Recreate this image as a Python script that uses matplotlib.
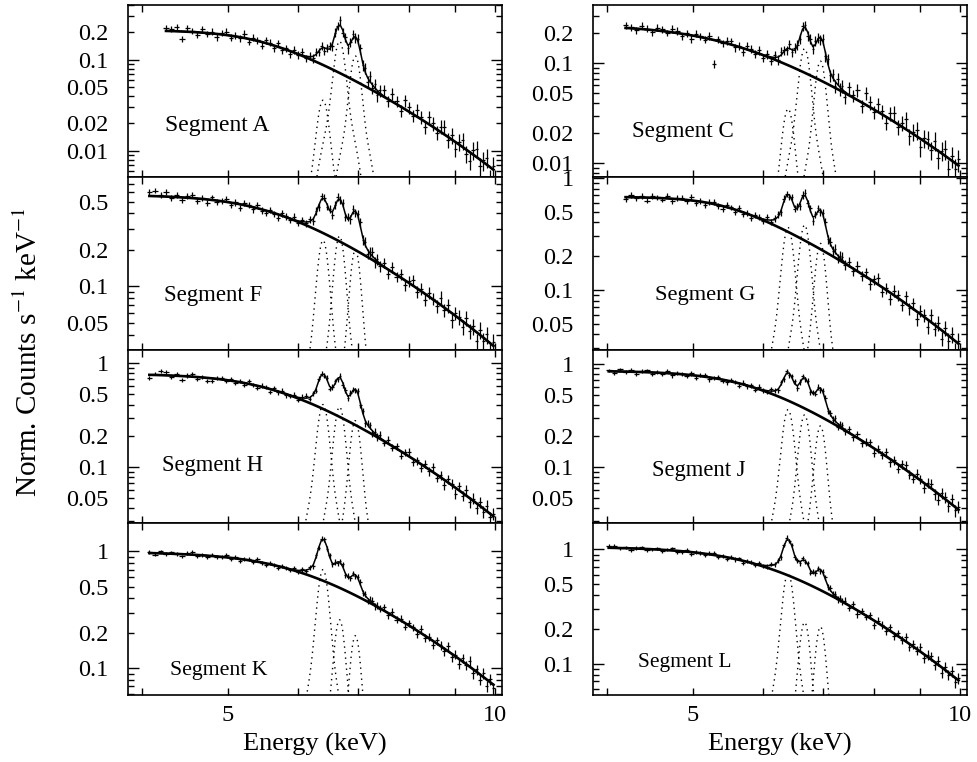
import numpy as np
import matplotlib.pyplot as plt
from matplotlib.ticker import FixedLocator, FuncFormatter, LogLocator, NullFormatter

plt.rcParams['font.family'] = ['Liberation Serif', 'DejaVu Serif']
plt.rcParams['mathtext.fontset'] = 'stix'

# bin centres (keV)
energy = [4.02, 4.08, 4.14, 4.20, 4.26, 4.32, 4.38, 4.44, 4.50, 4.56, 4.62, 4.68,
          4.74, 4.80, 4.86, 4.92, 4.98, 5.04, 5.10, 5.16, 5.22, 5.28, 5.34, 5.40,
          5.46, 5.52, 5.58, 5.64, 5.70, 5.76, 5.82, 5.88, 5.94, 6.00, 6.06, 6.12, 6.18,
          6.240, 6.285, 6.330, 6.375, 6.420, 6.465, 6.510, 6.555, 6.600, 6.645, 6.690,
          6.735, 6.780, 6.825, 6.870, 6.915, 6.960, 7.005, 7.050, 7.095, 7.140, 7.185,
          7.230, 7.275, 7.320, 7.365, 7.410,
          7.49, 7.575, 7.66, 7.745, 7.83, 7.915, 8.0, 8.085, 8.17, 8.255, 8.34, 8.425,
          8.51, 8.595, 8.68, 8.765, 8.85, 8.935, 9.02, 9.105, 9.19, 9.275, 9.36, 9.445,
          9.53, 9.615, 9.70, 9.785, 9.87, 9.955]

# relative 1-sigma errors per bin, scaled per segment
rel_err = [0.034, 0.036, 0.033, 0.035, 0.037, 0.034, 0.036, 0.035, 0.038, 0.036,
           0.037, 0.035, 0.039, 0.037, 0.038, 0.036, 0.040, 0.038, 0.039, 0.037,
           0.041, 0.039, 0.040, 0.038, 0.042, 0.040, 0.041, 0.039, 0.043, 0.041,
           0.042, 0.040, 0.044, 0.042, 0.043, 0.041, 0.045,
           0.050, 0.048, 0.046, 0.044, 0.044, 0.046, 0.049, 0.051, 0.050, 0.049,
           0.048, 0.050, 0.053, 0.054, 0.053, 0.052, 0.053, 0.055, 0.058, 0.061,
           0.063, 0.064, 0.065, 0.066, 0.067, 0.068, 0.069,
           0.062, 0.064, 0.066, 0.065, 0.068, 0.070, 0.069, 0.072, 0.074, 0.073,
           0.076, 0.078, 0.077, 0.080, 0.083, 0.082, 0.085, 0.088, 0.087, 0.091,
           0.094, 0.093, 0.097, 0.100, 0.099, 0.104, 0.107, 0.106, 0.111, 0.115]
err_scale = {'A': 2.2, 'C': 2.2, 'F': 1.5, 'G': 1.5,
             'H': 1.2, 'J': 1.2, 'K': 1.0, 'L': 1.0}

# normalised counts, aligned to the high-energy end of the grid
rate_A = [0.224, 0.217, 0.230, 0.168, 0.222, 0.208, 0.188, 0.219, 0.193, 0.204,
          0.177, 0.197, 0.204, 0.175, 0.184, 0.172, 0.193, 0.158, 0.175, 0.164,
          0.143, 0.163, 0.154, 0.134, 0.152, 0.128, 0.133, 0.115, 0.128, 0.113,
          0.122, 0.104, 0.110,
          0.104, 0.123, 0.121, 0.142, 0.125, 0.137, 0.143, 0.142, 0.199, 0.237,
          0.271, 0.199, 0.177, 0.133, 0.157, 0.190, 0.175, 0.170, 0.133, 0.0869,
          0.0818, 0.0577, 0.0661, 0.0493, 0.0541, 0.0406, 0.0462,
          0.0460, 0.0352, 0.0423, 0.0351, 0.0275, 0.0358, 0.0301, 0.0244, 0.0280, 0.0233,
          0.0183, 0.0234, 0.0201, 0.0158, 0.0185, 0.0184, 0.0133, 0.0149, 0.0106, 0.0126,
          0.0130, 0.00927, 0.00776, 0.0102, 0.0106, 0.0068, 0.00788, 0.0084, 0.00495, 0.00682]
rate_C = [0.239, 0.230, 0.213, 0.237, 0.222, 0.204, 0.227, 0.218, 0.201, 0.222,
          0.211, 0.186, 0.200, 0.175, 0.198, 0.187, 0.172, 0.187, 0.0991, 0.173,
          0.159, 0.168, 0.166, 0.144, 0.150, 0.131, 0.149, 0.139, 0.125, 0.135,
          0.114, 0.123, 0.105, 0.120,
          0.109, 0.131, 0.136, 0.135, 0.155, 0.129, 0.143, 0.154, 0.176, 0.235,
          0.241, 0.188, 0.176, 0.139, 0.168, 0.180, 0.172, 0.175, 0.117, 0.110,
          0.0760, 0.0773, 0.0593, 0.0701, 0.0549, 0.0596, 0.0459,
          0.0572, 0.0478, 0.0536, 0.0374, 0.0499, 0.0407, 0.0326, 0.0390, 0.0332, 0.0255,
          0.0316, 0.0317, 0.0231, 0.0255, 0.0275, 0.0187, 0.0206, 0.0214, 0.0144, 0.0179,
          0.0176, 0.0136, 0.0168, 0.0113, 0.0133, 0.0140, 0.00874, 0.0117, 0.0088, 0.0109]
rate_F = [0.600, 0.615, 0.569, 0.600, 0.536, 0.566, 0.514, 0.554, 0.566, 0.509,
          0.537, 0.490, 0.541, 0.495, 0.509, 0.527, 0.466, 0.493, 0.442, 0.486,
          0.473, 0.432, 0.472, 0.422, 0.401, 0.428, 0.398, 0.368, 0.401, 0.379,
          0.352, 0.375, 0.333, 0.352, 0.332, 0.358,
          0.346, 0.421, 0.453, 0.557, 0.540, 0.454, 0.438, 0.386, 0.468, 0.549,
          0.515, 0.491, 0.373, 0.375, 0.358, 0.431, 0.403, 0.392, 0.338, 0.241,
          0.232, 0.186, 0.194, 0.194, 0.159, 0.167, 0.148,
          0.156, 0.127, 0.144, 0.120, 0.126, 0.102, 0.110, 0.113, 0.0902, 0.0956,
          0.0774, 0.0886, 0.0796, 0.0688, 0.0809, 0.0637, 0.0698, 0.0528, 0.0604, 0.0562,
          0.0468, 0.0554, 0.0432, 0.0471, 0.0357, 0.0440, 0.0357, 0.0403, 0.0292, 0.0346]
rate_G = [0.646, 0.706, 0.658, 0.689, 0.627, 0.692, 0.670, 0.640, 0.695, 0.619,
          0.661, 0.668, 0.617, 0.674, 0.597, 0.626, 0.575, 0.613, 0.614, 0.562,
          0.527, 0.570, 0.546, 0.500, 0.537, 0.477, 0.483, 0.441, 0.469, 0.448,
          0.412, 0.447, 0.407, 0.437,
          0.475, 0.494, 0.652, 0.724, 0.675, 0.677, 0.532, 0.558, 0.559, 0.707,
          0.740, 0.595, 0.534, 0.416, 0.472, 0.535, 0.495, 0.489, 0.407, 0.285,
          0.270, 0.224, 0.234, 0.192, 0.202, 0.197, 0.168,
          0.178, 0.146, 0.165, 0.133, 0.143, 0.112, 0.124, 0.127, 0.0966, 0.103,
          0.0827, 0.0979, 0.0890, 0.0728, 0.0874, 0.0684, 0.0755, 0.0550, 0.0653, 0.0593,
          0.0470, 0.0592, 0.0451, 0.0506, 0.0366, 0.0459, 0.0351, 0.0400, 0.0287, 0.0350]
rate_H = [0.727, 0.793, 0.844, 0.817, 0.737, 0.794, 0.692, 0.762, 0.785, 0.707,
          0.736, 0.679, 0.679, 0.728, 0.726, 0.674, 0.712, 0.648, 0.670, 0.619,
          0.670, 0.613, 0.576, 0.610, 0.590, 0.530, 0.571, 0.523, 0.545, 0.490,
          0.486, 0.498, 0.446, 0.477, 0.488, 0.456,
          0.513, 0.544, 0.712, 0.791, 0.759, 0.723, 0.568, 0.589, 0.670, 0.701,
          0.760, 0.618, 0.557, 0.461, 0.520, 0.558, 0.547, 0.540, 0.396, 0.347,
          0.264, 0.262, 0.254, 0.212, 0.220, 0.196, 0.205,
          0.171, 0.183, 0.154, 0.159, 0.129, 0.139, 0.140, 0.112, 0.116, 0.0975,
          0.108, 0.0912, 0.0999, 0.0791, 0.0840, 0.0675, 0.0767, 0.0690, 0.0554, 0.0654,
          0.0532, 0.0599, 0.0460, 0.0498, 0.0401, 0.0458, 0.0372, 0.0426, 0.0328, 0.0357]
rate_J = [0.862, 0.810, 0.884, 0.832, 0.862, 0.792, 0.848, 0.861, 0.799, 0.828,
          0.799, 0.851, 0.772, 0.822, 0.792, 0.760, 0.807, 0.730, 0.773, 0.771,
          0.708, 0.734, 0.751, 0.688, 0.661, 0.695, 0.667, 0.613, 0.655, 0.603,
          0.617, 0.561, 0.599, 0.553, 0.533, 0.566, 0.556,
          0.553, 0.660, 0.711, 0.843, 0.772, 0.753, 0.677, 0.586, 0.667, 0.756,
          0.709, 0.686, 0.531, 0.527, 0.515, 0.599, 0.561, 0.549, 0.471, 0.350,
          0.335, 0.287, 0.296, 0.246, 0.260, 0.253, 0.222,
          0.232, 0.195, 0.208, 0.169, 0.175, 0.173, 0.137, 0.150, 0.130, 0.140,
          0.111, 0.116, 0.0954, 0.106, 0.105, 0.0846, 0.0773, 0.0861, 0.0762, 0.0623,
          0.0706, 0.0682, 0.0545, 0.0484, 0.0562, 0.0510, 0.0419, 0.0490, 0.0381, 0.0413]
rate_K = [0.988, 0.937, 1.00, 0.950, 0.985, 0.952, 0.910, 0.963, 0.986, 0.914,
          0.936, 0.893, 0.941, 0.898, 0.899, 0.927, 0.864, 0.889, 0.828, 0.861,
          0.866, 0.812, 0.858, 0.796, 0.767, 0.793, 0.763, 0.718, 0.756, 0.727,
          0.693, 0.724, 0.668, 0.701, 0.685, 0.729,
          0.746, 0.928, 1.07, 1.29, 1.27, 1.06, 0.926, 0.774, 0.814, 0.791,
          0.825, 0.777, 0.626, 0.618, 0.589, 0.653, 0.614, 0.602, 0.545, 0.439,
          0.432, 0.376, 0.387, 0.380, 0.341, 0.344, 0.323,
          0.333, 0.283, 0.306, 0.261, 0.266, 0.227, 0.244, 0.225, 0.197, 0.217,
          0.182, 0.185, 0.157, 0.173, 0.157, 0.140, 0.154, 0.125, 0.131, 0.109,
          0.122, 0.106, 0.115, 0.0902, 0.0979, 0.0797, 0.0908, 0.0704, 0.0806, 0.0671]
rate_L = [1.07, 1.08, 1.02, 1.04, 0.989, 1.03, 1.04, 0.990, 1.00, 1.02,
          0.962, 0.996, 1.02, 0.953, 0.954, 0.984, 0.909, 0.956, 0.927, 0.889,
          0.923, 0.929, 0.862, 0.876, 0.827, 0.856, 0.816, 0.833, 0.761, 0.786,
          0.777, 0.726, 0.764, 0.719, 0.707, 0.744, 0.740,
          0.800, 0.854, 1.09, 1.27, 1.19, 1.09, 0.850, 0.803, 0.756, 0.838,
          0.783, 0.759, 0.627, 0.642, 0.621, 0.681, 0.643, 0.636, 0.569, 0.466,
          0.460, 0.405, 0.407, 0.365, 0.373, 0.350, 0.356,
          0.309, 0.330, 0.269, 0.289, 0.256, 0.265, 0.217, 0.237, 0.218, 0.191,
          0.208, 0.176, 0.184, 0.162, 0.171, 0.139, 0.148, 0.130, 0.140, 0.111,
          0.119, 0.116, 0.0968, 0.106, 0.0825, 0.0932, 0.0801, 0.0854, 0.0683, 0.0748]
rates = {'A': rate_A, 'C': rate_C, 'F': rate_F, 'G': rate_G,
         'H': rate_H, 'J': rate_J, 'K': rate_K, 'L': rate_L}

# continuum: level, break (keV), width (keV), slope above break
cont_pars = {
    'A': (0.213, 5.24, 0.41, 0.75),
    'C': (0.246, 5.02, 0.59, 0.66),
    'F': (0.572, 5.25, 0.50, 0.61),
    'G': (0.68, 5.30, 0.35, 0.65),
    'H': (0.795, 5.30, 0.50, 0.68),
    'J': (0.86, 5.52, 0.50, 0.70),
    'K': (0.997, 5.58, 0.60, 0.60),
    'L': (1.06, 5.60, 0.60, 0.62),
}
# Fe K lines (keV) and their peak heights per segment
line_energy = [6.40, 6.68, 6.96]
line_amp = {
    'A': (0.036, 0.16, 0.11),
    'C': (0.035, 0.14, 0.105),
    'F': (0.24, 0.26, 0.20),
    'G': (0.36, 0.38, 0.26),
    'H': (0.40, 0.38, 0.28),
    'J': (0.36, 0.32, 0.25),
    'K': (0.70, 0.26, 0.19),
    'L': (0.62, 0.23, 0.21),
}
# folded line profile: narrow core plus broad wing
core_sigma, wing_sigma, wing_frac = 0.075, 0.20, 0.2

ylims = {'A': (0.0051, 0.40), 'C': (0.0072, 0.383),
         'F': (0.030, 0.79), 'G': (0.029, 1.01),
         'H': (0.0293, 1.34), 'J': (0.029, 1.36),
         'K': (0.059, 1.77), 'L': (0.053, 1.72)}

layout = [('A', 'C'), ('F', 'G'), ('H', 'J'), ('K', 'L')]
label_pos = {'A': (0.099, 0.304, 17), 'C': (0.104, 0.266, 16.6),
             'F': (0.097, 0.313, 16.4), 'G': (0.166, 0.313, 16.1),
             'H': (0.091, 0.333, 16.3), 'J': (0.158, 0.304, 16.3),
             'K': (0.113, 0.145, 15.7), 'L': (0.120, 0.186, 15.4)}


def continuum(E, p):
    v0, eb, w, s = p
    return v0 * (1 + np.exp((E - eb) / w)) ** (-s * w)


def line(E, e0, amp):
    d = E - e0
    return amp * ((1 - wing_frac) * np.exp(-0.5 * (d / core_sigma) ** 2)
                  + wing_frac * np.exp(-0.5 * (d / wing_sigma) ** 2))


def ylab(v, pos):
    m = v / 10 ** np.floor(np.log10(v) + 1e-9)
    if round(m) in (1, 2, 5):
        return '%g' % v
    return ''


fig = plt.figure(figsize=(9.77, 7.62), dpi=100)
lefts = [0.131, 0.607]
bottoms = [0.7671, 0.5407, 0.3143, 0.0879]
E_all = np.array(energy)
half_bin = np.gradient(E_all) / 2

for row, pair in enumerate(layout):
    for col, seg in enumerate(pair):
        ax = fig.add_axes([lefts[col], bottoms[row], 0.3825, 0.2264])
        ax.set_xscale('log')
        ax.set_yscale('log')

        y = np.array(rates[seg])
        n = len(y)
        E = E_all[-n:]
        ax.errorbar(E, y, xerr=half_bin[-n:],
                    yerr=y * np.array(rel_err[-n:]) * err_scale[seg],
                    fmt='none', ecolor='k', elinewidth=0.9)

        # model: continuum, lines and their sum
        Ef = np.linspace(E[0], E[-1], 800)
        c = continuum(E, cont_pars[seg])
        tot = c.copy()
        for e0, a in zip(line_energy, line_amp[seg]):
            tot += line(E, e0, a)
            ax.plot(Ef, line(Ef, e0, a), color='k', lw=1.0, ls=(0, (1, 3)))
        ax.plot(E, c, color='k', lw=1.9)
        ax.plot(E, tot, color='k', lw=1.1)

        ax.set_xlim(3.86, 10.17)
        ax.set_ylim(*ylims[seg])

        ax.xaxis.set_major_locator(FixedLocator([5, 10]))
        ax.xaxis.set_minor_locator(FixedLocator([4, 6, 7, 8, 9]))
        ax.xaxis.set_minor_formatter(NullFormatter())
        if row == 3:
            ax.xaxis.set_major_formatter(FuncFormatter(lambda v, p: '%g' % v))
            ax.set_xlabel('Energy (keV)', fontsize=19, labelpad=5)
        else:
            ax.xaxis.set_major_formatter(NullFormatter())
        ax.yaxis.set_major_locator(LogLocator(base=10))
        ax.yaxis.set_minor_locator(LogLocator(base=10, subs=np.arange(2, 10)))
        ax.yaxis.set_major_formatter(FuncFormatter(ylab))
        ax.yaxis.set_minor_formatter(FuncFormatter(ylab))

        ax.tick_params(which='both', direction='in', top=True, right=True,
                       labelsize=17.5, width=1.0)
        ax.tick_params(axis='x', which='both', length=5, pad=7)
        ax.tick_params(axis='y', which='major', length=8, pad=14)
        ax.tick_params(axis='y', which='minor', length=4.3, pad=14)
        for sp in ax.spines.values():
            sp.set_linewidth(1.2)

        lx, ly, fs = label_pos[seg]
        ax.text(lx, ly, 'Segment ' + seg, transform=ax.transAxes,
                fontsize=fs, va='center', ha='left')

fig.text(0.029, 0.538, r'Norm. Counts s$^{-1}$ keV$^{-1}$', rotation=90,
         fontsize=21, ha='center', va='center')

fig.savefig('out.png', dpi=100)
